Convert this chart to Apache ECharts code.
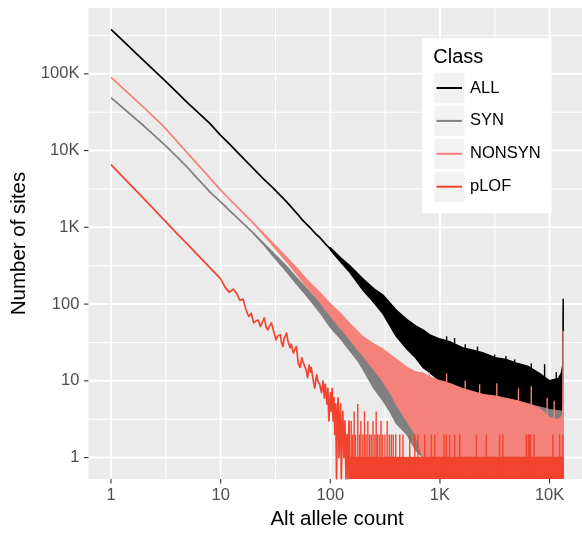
<!DOCTYPE html>
<html><head><meta charset="utf-8">
<script src="https://cdn.jsdelivr.net/npm/echarts@6/dist/echarts.min.js"></script>
<style>html,body{margin:0;padding:0;background:#fff}#c{width:582px;height:533px}</style>
</head><body><div id="c"></div>
<script>
// ---------------- DATA (counts) ----------------
const seriesNames  = ['ALL', 'SYN', 'NONSYN', 'pLOF'];
const seriesColors = ['#000000', '#7F7F7F', '#F4827A', '#F2432F'];

const xTickValues = [1, 10, 100, 1000, 10000];
const xTickLabels = ['1', '10', '100', '1K', '10K'];
const yTickValues = [1, 10, 100, 1000, 10000, 100000];
const yTickLabels = ['1', '10', '100', '1K', '10K', '100K'];
const xMinorGrid  = [3.1623, 31.623, 316.23, 3162.3];
const yMinorGrid  = [3.1623, 31.623, 316.23, 3162.3, 31623, 316228];

// ALL: clean line part
const allX = [1,2,3,4,5,6,8,10,12,15,20,25,30,40,50,55,60,65,70,75,80,90,100];
const allY = [379000,147000,85000,57500,41900,33000,22400,15800,12200,8800,5780,4170,3270,2150,1500,1270,1120,1000,890,800,740,610,525];
// ALL: noisy tail envelope
const allBandX  = [100,125,150,200,250,300,400,500,600,700,800,1000,1250,1600,2000,2500,3200,4000,5000,6300,8000,10000,12000,12800,13200,13300];
const allBandLo = [510,350,262,150,105,76,38,26,20,15,13,10,8,6.3,6,5.2,5,4.6,4.2,4,3.5,3.2,3.5,4,5,5];
const allBandHi = [540,398,318,210,158,132,83,63,52,46,40,35,32,27,25,23,20,19,17,15.5,12.6,10,10.7,12.6,16,116];
const allSpikeX = [1150,1360,1700,2200,3150,4000,4800,6800,9000,11500];
const allSpikeY = [38,36,30,28,22,21,19,17,16.5,13];

// SYN
const synX = [1,2,3,4,5,6,7,8,10,12,15,20];
const synY = [49000,20900,12300,8300,6000,4470,3550,2880,2140,1660,1230,832];
const synBandX  = [20,25,30,40,50,60,70,80,100,125,150,180,200,250,300,350,400,500,600,700,800,1000,1600,2500,4000,6300,10000,13200];
const synBandLo = [826,585,425,263,178,132,100,79,50,35,25,18,14,8,5.6,4,2.8,2,1.26,1,1,1,1,1,1,1,1,1];
const synBandHi = [838,608,465,309,214,162,126,105,72,52,40,30,26,20,16,13,11,9.5,8.5,8,7.6,7,6.3,5.6,5.2,5,4.2,4];

// NONSYN
const nsX = [1,2,3,4,5,6,8,10,12,15,20];
const nsY = [90000,36300,20800,13200,9200,6900,4370,3050,2340,1700,1120];
const nsBandX  = [20,25,30,40,50,60,70,80,100,125,150,180,200,250,300,350,400,500,600,700,800,1000,1250,1600,2000,2500,3200,4000,5000,6300,8000,10000,12000,13200,13300];
const nsBandLo = [1112,785,578,358,240,174,135,107,71,48,35,25,21,14,10,7.1,5,3,2,1,1,1,1,1,1,1,1,1,1,1,1,1,1,1,1];
const nsBandHi = [1128,812,620,405,288,214,170,141,100,74,56,43,37,30,26,22,19,15,13,12.6,11.2,10,9.1,7.9,7.2,6.6,6.3,5.9,5.5,5,4.4,3.3,3.1,3.5,44];
const nsSpikeX = [800,1150,1700,2300,3300,5200,6800,9500,11000];
const nsSpikeY = [13,12.5,10,9,9.3,8,8.5,6,5.5];

// pLOF
const plofX = [1,2,3,4,5,6,7,8,9,10,11,12,13,14,15,16,17,18,19,20,21,22,23,24,25,26,27,28,29,30,
  31,32,33,35,36,37,38,40,41,43,44,46,47,49,50,51,53,55,56,58,60,62,64,66,67,70,72,75,77,80,
  83,86,88,90,93,95,97,100,102,104,106,108,110,112,114,116,118,120,122,124,126,128,130,133,136,139,142,145,148,150];
const plofY = [6570,2350,1280,830,600,455,362,297,249,213,165,142,157,138,112,116,85,69,76,57,60,62,51,58,66,50,46,52,57,48,
  40,34,38,40,31,28,36,42,33,27,30,23,25,28,22,17,15,20,18,19,14,11,16,13,15,10,8,12,10,9,
  7,10,6,9,5,8,3,7,4,8,3,6,2,5,0,4,6,1,3,5,0,2,4,1,3,0,2,0,3,1];
const plofBandX  = [150, 13300];
const plofBandLo = [0, 0];
const plofBandHi = [1, 1];
const plofSpikeX = [155,160,165,170,178,185,190,198,205,212,220,228,236,245,255,262,270,280,290,300,315,330,345,360,375,395,
  430,460,530,590,630,726,836,896,1090,1145,1227,1362,1514,2148,2650,3500,3750,6130,6380,6570,6700,7200,10720,12340,13200];
const plofSpikeY = [3,2,4,2,5,2,3,2,4,2,3,2,2,3,2,4,2,2,3,2,2,3,2,2,2,2,
  2,2,2,2,2,2,2,2,2,2,2,2,2,2,2,2,2,2,2,2,2,2,2,2,2];

// ---------------- SCALES ----------------
const allXs = [].concat(allX, allBandX, synX, synBandX, nsX, nsBandX, plofX, plofBandX);
const allYs = [].concat(allY, allBandHi, synY, synBandHi, nsY, nsBandHi, plofY).filter(v => v > 0);
const xl0 = Math.log10(Math.min(...allXs)), xl1 = Math.log10(Math.max(...allXs));
const yl0 = Math.log10(Math.min(...allYs)), yl1 = Math.log10(Math.max(...allYs));
const X_MIN = xl0 - 0.05 * (xl1 - xl0), X_MAX = xl1 + 0.05 * (xl1 - xl0);
const Y_MIN = yl0 - 0.05 * (yl1 - yl0), Y_MAX = yl1 + 0.05 * (yl1 - yl0);
const lx = v => Math.log10(v);
const ly = v => v > 0 ? Math.log10(v) : Y_MIN;

const FONT = '"Liberation Sans", Arial, Helvetica, sans-serif';

function lineSeries(i, xs, ys) {
  return {
    type: 'line', name: seriesNames[i], z: 3 + i, silent: true,
    showSymbol: false, symbol: 'none', clip: true,
    data: xs.map((x, k) => [lx(x), ly(ys[k])]),
    lineStyle: { color: seriesColors[i], width: 1.7, join: 'round' },
    itemStyle: { color: seriesColors[i] }
  };
}
function bandSeries(i, xs, lo, hi) {
  return {
    type: 'custom', name: seriesNames[i] + '_band', z: 3 + i, silent: true, clip: true,
    data: [[lx(xs[0]), ly(lo[0])]],
    renderItem: function (params, api) {
      const pts = [];
      for (let k = 0; k < xs.length; k++) pts.push(api.coord([lx(xs[k]), ly(hi[k])]));
      for (let k = xs.length - 1; k >= 0; k--) pts.push(api.coord([lx(xs[k]), ly(lo[k])]));
      return { type: 'polygon', shape: { points: pts },
        style: { fill: seriesColors[i], stroke: seriesColors[i], lineWidth: 1.5, lineJoin: 'round' } };
    }
  };
}
function spikeSeries(i, xs, ys) {
  return {
    type: 'custom', name: seriesNames[i] + '_spk', z: 3 + i, silent: true, clip: true,
    data: xs.map((x, k) => [lx(x), ly(ys[k])]),
    renderItem: function (params, api) {
      const top = api.coord([api.value(0), api.value(1)]);
      const bot = api.coord([api.value(0), Y_MIN]);
      return { type: 'line', shape: { x1: top[0], y1: top[1], x2: bot[0], y2: bot[1] },
        style: { stroke: seriesColors[i], lineWidth: 1.4 } };
    }
  };
}
// panel grid lines + axis ticks (ggplot style), positioned through the axes
const gridSeries = {
  type: 'custom', name: 'grid', z: 1, silent: true, clip: false,
  data: [[X_MIN, Y_MIN]],
  renderItem: function (params, api) {
    const cs = params.coordSys;
    const kids = [];
    const vline = (v, w) => { const x = api.coord([lx(v), Y_MIN])[0];
      kids.push({ type: 'line', shape: { x1: x, y1: cs.y, x2: x, y2: cs.y + cs.height }, style: { stroke: '#FFFFFF', lineWidth: w } }); };
    const hline = (v, w) => { const y = api.coord([X_MIN, lx(v)])[1];
      kids.push({ type: 'line', shape: { x1: cs.x, y1: y, x2: cs.x + cs.width, y2: y }, style: { stroke: '#FFFFFF', lineWidth: w } }); };
    xMinorGrid.forEach(v => vline(v, 1.0));
    yMinorGrid.forEach(v => { if (lx(v) < Y_MAX) hline(v, 1.0); });
    xTickValues.forEach(v => vline(v, 2.0));
    yTickValues.forEach(v => hline(v, 2.0));
    xTickValues.forEach(v => { const x = api.coord([lx(v), Y_MIN])[0]; const yb = cs.y + cs.height;
      kids.push({ type: 'line', shape: { x1: x, y1: yb, x2: x, y2: yb + 4.5 }, style: { stroke: '#333333', lineWidth: 1.1 } }); });
    yTickValues.forEach(v => { const y = api.coord([X_MIN, lx(v)])[1];
      kids.push({ type: 'line', shape: { x1: cs.x - 4.5, y1: y, x2: cs.x, y2: y }, style: { stroke: '#333333', lineWidth: 1.1 } }); });
    return { type: 'group', children: kids };
  }
};

const labelFor = (vals, labs) => v => {
  for (let k = 0; k < vals.length; k++) if (Math.abs(lx(vals[k]) - v) < 1e-6) return labs[k];
  return '';
};

// legend graphic (built from names/colours)
const legendGraphic = [
  { type: 'rect', shape: { x: 422, y: 38.3, width: 129.7, height: 175 }, style: { fill: '#FFFFFF' }, z: 20 },
  { type: 'text', x: 433.3, y: 57.5, style: { text: 'Class', font: '20px ' + FONT, fill: '#000000', verticalAlign: 'middle', textVerticalAlign: 'middle' }, z: 21 }
];
seriesNames.forEach((n, i) => {
  const cy = 88 + i * 32.9;
  legendGraphic.push({ type: 'rect', shape: { x: 434.3, y: cy - 15.2, width: 30, height: 30.4 }, style: { fill: '#F2F2F2' }, z: 21 });
  legendGraphic.push({ type: 'line', shape: { x1: 436.5, y1: cy, x2: 462, y2: cy }, style: { stroke: seriesColors[i], lineWidth: 2 }, z: 22 });
  legendGraphic.push({ type: 'text', x: 470, y: cy, style: { text: n, font: '16.5px ' + FONT, fill: '#000000', verticalAlign: 'middle', textVerticalAlign: 'middle' }, z: 22 });
});

const chart = echarts.init(document.getElementById('c'), null, { renderer: 'canvas' });
chart.setOption({
  animation: false,
  backgroundColor: '#FFFFFF',
  grid: { left: 88.4, right: -3.8, top: 8, bottom: 54, show: true, backgroundColor: '#EBEBEB', borderWidth: 0,
    containLabel: false, outerBoundsMode: 'none' },
  xAxis: {
    type: 'value', min: X_MIN, max: X_MAX,
    axisLine: { show: false }, splitLine: { show: false }, axisTick: { show: false },
    axisLabel: { customValues: xTickValues.map(lx), formatter: labelFor(xTickValues, xTickLabels),
      color: '#4D4D4D', fontSize: 16.5, fontFamily: FONT, margin: 8, hideOverlap: false },
    name: 'Alt allele count', nameLocation: 'middle', nameGap: 30,
    nameTextStyle: { color: '#000000', fontSize: 20.5, fontFamily: FONT }
  },
  yAxis: {
    type: 'value', min: Y_MIN, max: Y_MAX,
    axisLine: { show: false }, splitLine: { show: false }, axisTick: { show: false },
    axisLabel: { customValues: yTickValues.map(lx), formatter: labelFor(yTickValues, yTickLabels),
      color: '#4D4D4D', fontSize: 16.5, fontFamily: FONT, margin: 9, hideOverlap: false },
    name: 'Number of sites', nameLocation: 'middle', nameGap: 52,
    nameTextStyle: { color: '#000000', fontSize: 20.5, fontFamily: FONT }
  },
  graphic: legendGraphic,
  series: [
    gridSeries,
    lineSeries(0, allX, allY), bandSeries(0, allBandX, allBandLo, allBandHi), spikeSeries(0, allSpikeX, allSpikeY),
    lineSeries(1, synX, synY), bandSeries(1, synBandX, synBandLo, synBandHi),
    lineSeries(2, nsX, nsY), bandSeries(2, nsBandX, nsBandLo, nsBandHi), spikeSeries(2, nsSpikeX, nsSpikeY),
    lineSeries(3, plofX, plofY), bandSeries(3, plofBandX, plofBandLo, plofBandHi), spikeSeries(3, plofSpikeX, plofSpikeY)
  ]
});
</script></body></html>
